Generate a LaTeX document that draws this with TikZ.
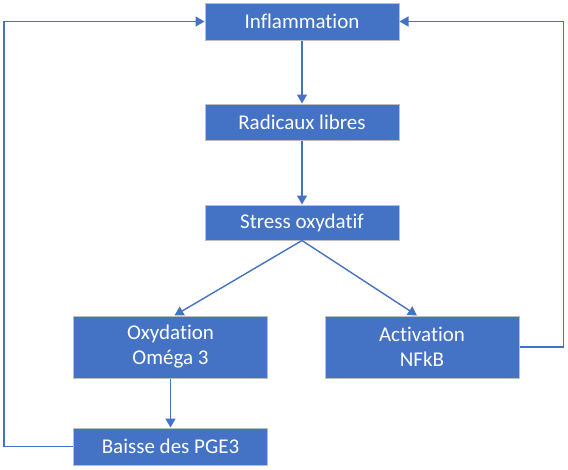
\documentclass[tikz,border=0pt]{standalone}
\usepackage{fontspec}
\setmainfont[Ligatures=NoCommon]{Carlito}
\usepackage{xcolor}
\usetikzlibrary{positioning, arrows.meta}
\definecolor{OfficeBlue}{RGB}{68,114,196}
\definecolor{EdgeGray}{RGB}{190,190,190}
\tikzset{
  stepbox/.style={draw=EdgeGray, line width=1pt, fill=OfficeBlue, text=white,
    minimum width=194pt, inner sep=1pt, align=center,
    font=\fontsize{21}{25}\selectfont},
  flowarrow/.style={-{Triangle[length=9pt,width=10pt]}, line width=1.4pt, OfficeBlue},
}

\begin{document}
\begin{tikzpicture}[x=1pt,y=-1pt]
  \useasboundingbox (0,0) rectangle (568,469);
  % main chain
  \node[stepbox, minimum height=37pt] (infl) at (302,21.5) {Inflammation};
  \node[stepbox, minimum height=36pt] (radic) at (302,122) {Radicaux libres};
  \node[stepbox, minimum height=35pt] (stress) at (302,222.5) {Stress oxydatif};
  % branches
  \node[stepbox, minimum height=62pt] (oxy) at (170.5,347) {Oxydation\\Oméga 3};
  \node[stepbox, minimum height=62pt] (activ) at (422,347) {Activation\\NFkB};
  \node[stepbox, minimum height=37pt] (baisse) at (170.5,446.5) {Baisse des PGE3};
  \draw[flowarrow] (infl) -- (radic);
  \draw[flowarrow] (radic) -- (stress);
  \draw[flowarrow] (stress.south) -- ([xshift=4pt]oxy.north);
  \draw[flowarrow] (stress.south) -- ([xshift=-5pt]activ.north);
  \draw[flowarrow] (oxy) -- (baisse);
  % feedback loops
  \draw[flowarrow] (baisse.west) -- ++(-69,0) |- (infl.west);
  \draw[flowarrow] (activ.east) -- ++(44,0) |- (infl.east);
\end{tikzpicture}
\end{document}
